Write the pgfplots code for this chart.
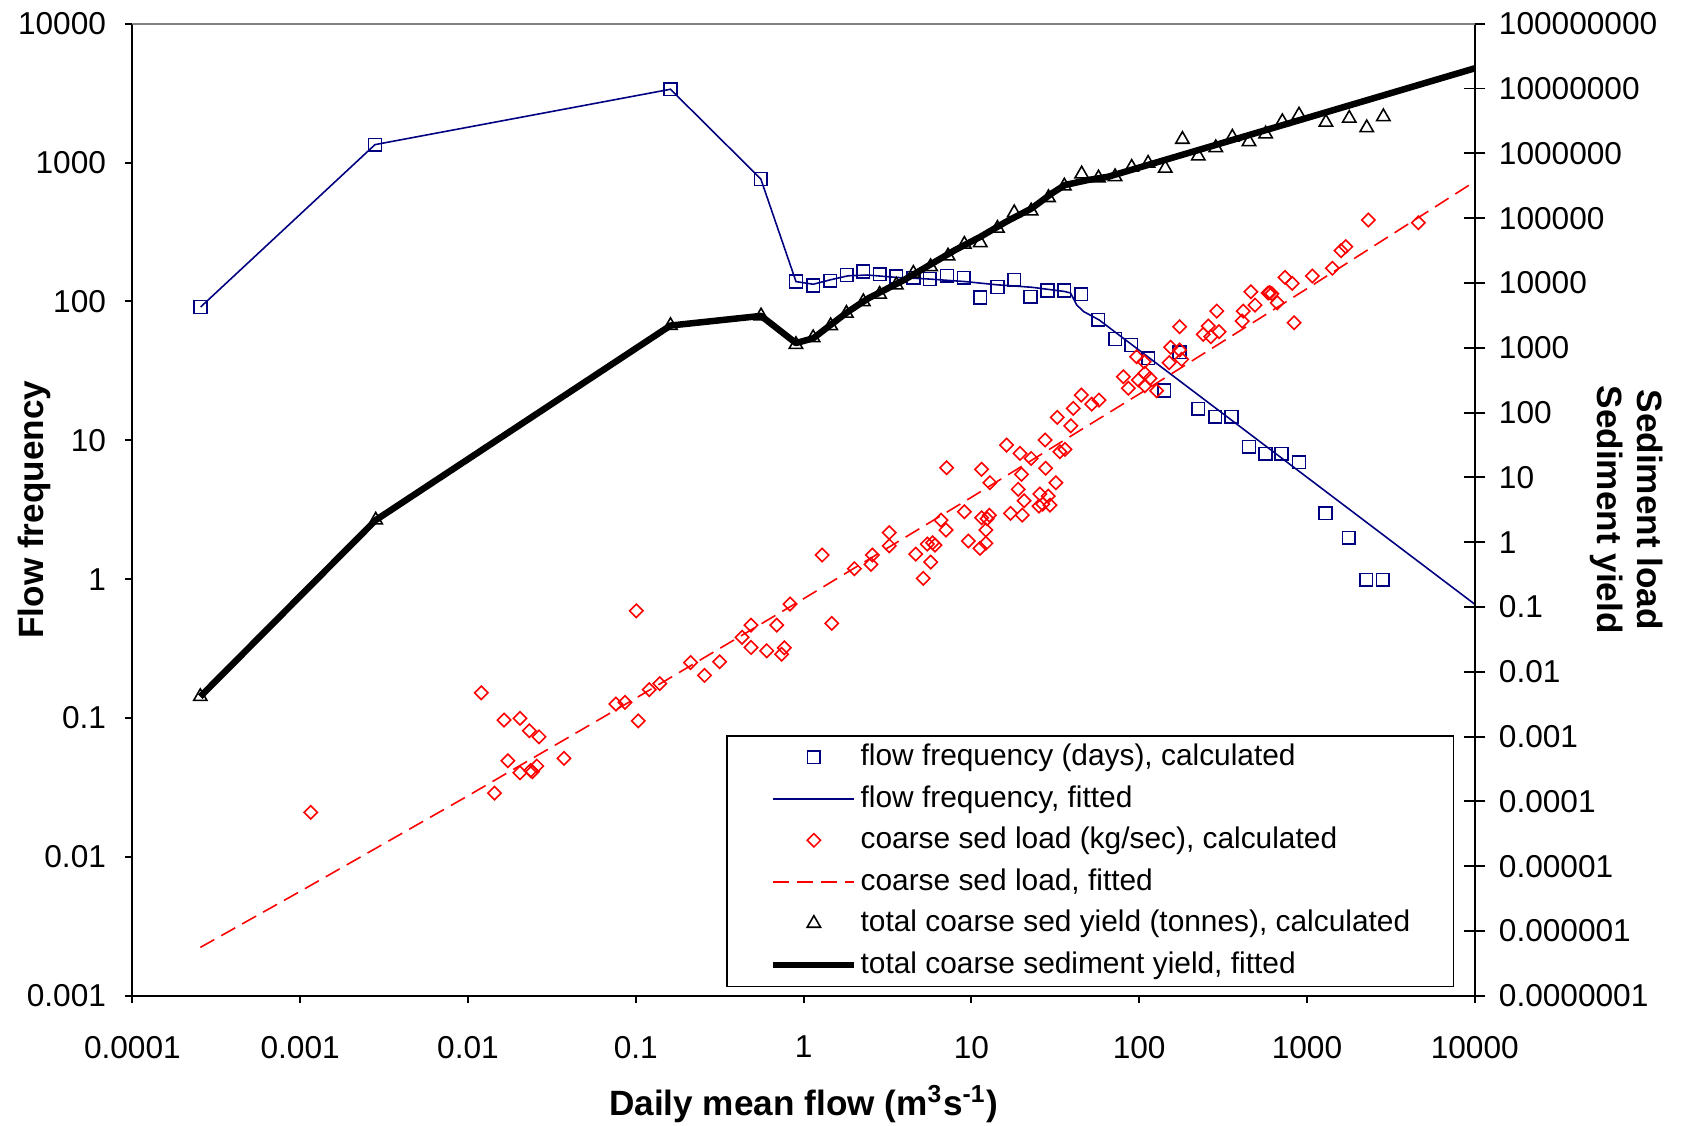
\documentclass[border=0pt]{standalone}
\usepackage{fontspec}
\setmainfont{Liberation Sans}
\usepackage{pgfplots}
\pgfplotsset{compat=1.18}
\definecolor{xlnavy}{HTML}{000080}
\definecolor{xlred}{HTML}{FF0000}
\definecolor{xlgray}{HTML}{808080}

\pgfplotsset{
  legimg/.style={legend image code/.code={
      \path (0mm,0mm) (8.4mm,0mm);
      \draw[mark repeat=2, mark phase=2, ##1] plot coordinates {(0mm,0mm) (4.05mm,0mm) (8.1mm,0mm)};}},
  sqmark/.style={only marks, mark=square, mark size=0.635mm, xlnavy,
      mark options={solid, line width=0.45pt}, legimg},
  sqline/.style={xlnavy, line width=0.45pt, no marks, legimg},
}

\begin{document}
\begin{tikzpicture}
% left axis: flow frequency
\begin{axis}[
  width=134.24mm, height=97.21mm, scale only axis,
  at={(0,0)}, anchor=south west,
  xmode=log, ymode=log,
  xmin=1e-4, xmax=1e4, ymin=1e-3, ymax=1e4,
  tick label style={font=\fontsize{9}{10.8}\selectfont},
  label style={font=\fontsize{10}{11.6}\selectfont\bfseries},
  axis line style={black, line width=0.55pt},
  major tick style={black, line width=0.55pt},
  minor tick length=0pt,
  axis x line*=bottom, axis y line*=left,
  tick align=outside, major tick length=0.75mm,
  xtick={1e-4,1e-3,1e-2,1e-1,1,10,100,1000,10000},
  xticklabels={0.0001,0.001,0.01,0.1,1,10,100,1000,10000},
  ytick={1e-3,1e-2,1e-1,1,10,100,1000,10000},
  yticklabels={0.001,0.01,0.1,1,10,100,1000,10000},
  xticklabel style={yshift=-2.05mm},
  yticklabel style={xshift=-0.65mm},
  xlabel={Daily mean flow (m\textsuperscript{3}s\textsuperscript{-1})},
  ylabel={Flow frequency},
  xlabel style={at={(axis description cs:0.5,-0.1229)}, anchor=base},
  ylabel style={at={(axis description cs:-0.0730,0.5)}, anchor=center},
]
\addplot[sqmark] coordinates {
  (0.000255,91.2) (0.00279,1346) (0.161,3373) (0.556,762) (0.901,139)
  (1.14,130) (1.44,140.6) (1.81,155) (2.27,164) (2.84,157) (3.57,151)
  (4.51,148) (5.64,145) (7.15,153) (9.01,148) (11.3,107) (14.3,127)
  (18.0,143) (22.5,108) (28.4,120) (35.8,120) (45.1,113) (56.9,73.6)
  (72.1,53.7) (89.6,48.6) (113,39.0) (141,22.8) (174,43) (225,16.9)
  (284,14.8) (355,14.8) (451,9.0) (565,8.0) (706,8.0) (896,6.95)
  (1288,2.98) (1778,1.99) (2254,0.99) (2825,0.99)
};
\addplot[sqline] coordinates {
  (0.000255,91.2) (0.00279,1346) (0.161,3373) (0.556,762) (0.901,139)
  (1.14,133) (1.44,143) (1.84,153) (2.4,155) (3.57,149) (5.6,145)
  (9.2,139) (14,132) (22.9,126.5) (35.9,118) (39,115) (42.4,94.4)
  (46.7,84.5) (57.7,73.6) (10000,0.66)
};
\end{axis}

% right axis: sediment load / yield
\begin{axis}[
  width=134.24mm, height=97.21mm, scale only axis,
  at={(0,0)}, anchor=south west,
  xmode=log, ymode=log,
  xmin=1e-4, xmax=1e4, ymin=1e-7, ymax=1e8,
  tick label style={font=\fontsize{9}{10.8}\selectfont},
  label style={font=\fontsize{10}{11.6}\selectfont\bfseries},
  axis line style={black, line width=0.55pt},
  major tick style={black, line width=0.55pt},
  minor tick length=0pt,
  axis x line=none, axis y line*=right,
  ytick align=center, major tick length=2.14mm,
  ytick={1e-7,1e-6,1e-5,1e-4,1e-3,1e-2,1e-1,1,10,100,1e3,1e4,1e5,1e6,1e7,1e8},
  yticklabels={0.0000001,0.000001,0.00001,0.0001,0.001,0.01,0.1,1,10,100,1000,10000,100000,1000000,10000000,100000000},
  yticklabel style={xshift=0.1mm},
  ylabel={Sediment load\\Sediment yield},
  ylabel style={at={(axis description cs:1.1130,0.5)}, anchor=center, rotate=180, align=center},
  legend cell align=left,
  legend style={
    at={(0.9845,0.009)}, anchor=south east,
    draw=black, fill=white,
    font=\fontsize{8.5}{10.2}\selectfont,
    inner xsep=4.3mm, inner ysep=0.5mm,
    row sep=0.86mm,
    nodes={inner xsep=0pt, inner ysep=0.3mm},
  },
]
\draw[xlgray, line width=0.55pt] (rel axis cs:0,1) -- (rel axis cs:1,1);

\addlegendimage{sqmark}
\addlegendentry{flow frequency (days), calculated}
\addlegendimage{sqline}
\addlegendentry{flow frequency, fitted}

\addplot[only marks, mark=square, mark size=0.47mm, xlred,
  mark options={solid, rotate=45, line width=0.45pt}, legimg] coordinates {
  (0.001156,6.76e-5) (0.0120,0.00474) (0.0164,0.00180) (0.0204,0.00191)
  (0.0232,0.00123) (0.0265,0.000993) (0.0173,0.000424) (0.0204,0.000276)
  (0.0242,0.000286) (0.0257,0.000351) (0.0236,0.000300) (0.0373,0.000461)
  (0.0144,0.000134) (0.1007,0.0873) (0.0762,0.00318) (0.0863,0.00337)
  (0.1035,0.00175) (0.1203,0.00531) (0.139,0.00657) (0.212,0.01387)
  (0.257,0.00879) (0.316,0.01425) (0.430,0.0340) (0.486,0.0524)
  (0.486,0.0237) (0.603,0.0211) (0.692,0.0524) (0.768,0.0234)
  (0.740,0.0186) (0.830,0.111) (1.29,0.632) (1.47,0.0558)
  (2.01,0.389) (2.57,0.632) (2.52,0.454) (3.24,1.40) (3.24,0.879)
  (4.66,0.655) (5.17,0.276) (5.72,0.493) (5.46,0.935) (5.88,0.979)
  (6.07,0.902) (6.59,2.19) (7.06,1.54) (7.12,14.1) (9.08,2.94)
  (9.59,1.04) (11.26,0.802) (11.5,2.38) (12.2,0.959) (12.2,1.54)
  (12.4,2.30) (12.8,2.60) (11.5,13.3) (12.9,8.26) (16.2,31.5)
  (17.1,2.78) (19.0,6.53) (19.5,23.4) (19.9,11.1) (20.1,2.62)
  (20.6,4.35) (22.7,19.6) (25.6,5.52) (26.6,3.87) (28.7,5.14)
  (29.4,3.73) (25.3,3.6) (27.5,37.7) (27.7,13.8) (31.9,8.26)
  (32.5,84.3) (33.7,24.8) (36.1,27.0) (39.1,62.5) (40.5,116)
  (45.2,186) (52.1,135) (57.6,156) (80.4,357) (86.1,237) (96.6,726)
  (107,608) (98.9,318) (108,403) (108,259) (116,337) (127,217)
  (154,1014) (151,587) (174,923) (179,662) (174,2109) (241,1610)
  (258,2163) (267,1479) (299,1766) (290,3680) (411,2580) (417,3680)
  (463,7310) (490,4560) (587,6980) (600,7100) (618,6800) (665,4940)
  (739,12200) (817,9860) (837,2430) (1076,12800) (1417,16800)
  (1595,31400) (1702,36200) (2319,93500) (4606,84900)
};
\addlegendentry{coarse sed load (kg/sec), calculated}

\addplot[xlred, line width=0.45pt, dash pattern=on 1.6mm off 0.8mm, no marks, legimg] coordinates {
  (0.000254,5.58e-7) (0.001,4.09e-6) (0.01,1.22e-4) (0.1,3.91e-3)
  (1,0.134) (10,4.92) (100,193) (1000,8150) (10000,367000)
};
\addlegendentry{coarse sed load, fitted}

\addplot[only marks, mark=triangle, mark size=0.77mm, black,
  mark options={solid, line width=0.45pt}, legimg] coordinates {
  (0.000254,0.00414) (0.00282,2.19) (0.161,2200) (0.558,3100) (0.900,1120)
  (1.14,1426) (1.45,2188) (1.80,3396) (2.27,5128) (2.84,6670) (3.57,9290)
  (4.51,14060) (5.71,17800) (7.26,26000) (9.08,39400) (11.3,41700)
  (14.3,69600) (18.0,121000) (22.7,129000) (28.8,207000) (35.8,313000)
  (45.4,480000) (57.2,416000) (71.8,435000) (90.2,608000) (113,701000)
  (143,588000) (181,1640000) (225,908000) (286,1220000) (359,1770000)
  (451,1510000) (567,1990000) (713,3080000) (896,3900000) (1297,3010000)
  (1786,3470000) (2270,2480000) (2852,3670000)
};
\addlegendentry{total coarse sed yield (tonnes), calculated}

\addplot[black, line width=1.85pt, line join=round, no marks, legimg] coordinates {
  (0.000254,0.00414) (0.00282,2.19) (0.161,2200) (0.558,3100) (0.900,1180)
  (1.14,1397) (1.49,2377) (1.84,3597) (2.43,5780) (3.97,11100)
  (5.64,18900) (8.0,32200) (11.35,51700) (16.1,87900) (22.9,141600)
  (30.2,241500) (36.1,324000) (49.4,387000) (65.3,435000) (10000,2.05e7)
};
\addlegendentry{total coarse sediment yield, fitted}
\end{axis}

\pgfresetboundingbox
\path[use as bounding box] (-13.24mm,-12.92mm) rectangle (155.56mm,99.58mm);
\end{tikzpicture}
\end{document}
